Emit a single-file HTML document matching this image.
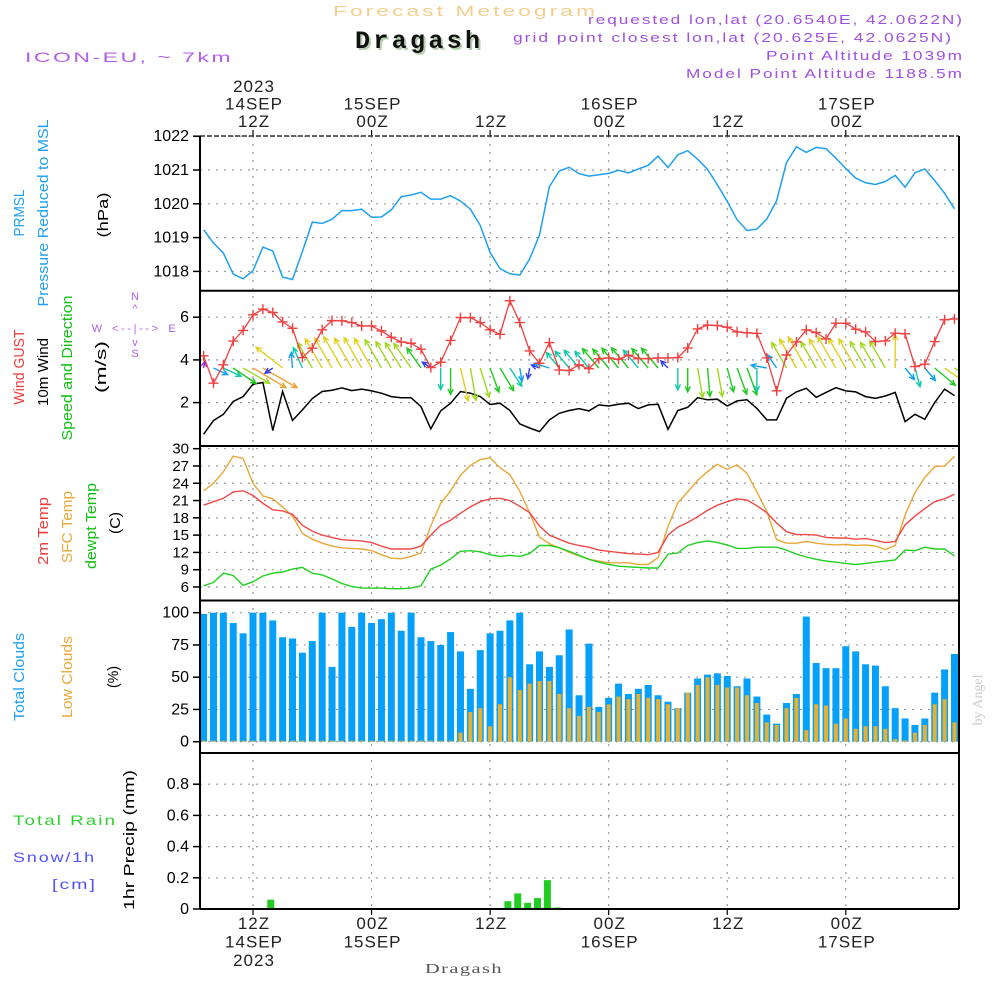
<!DOCTYPE html>
<html><head><meta charset="utf-8"><title>Meteogram Dragash</title>
<style>
html,body{margin:0;padding:0;background:#fff;}
svg{display:block;font-family:"Liberation Sans",sans-serif;}
</style></head>
<body>
<svg id="chart" width="1000" height="1000" viewBox="0 0 1000 1000" xmlns="http://www.w3.org/2000/svg">
  <rect x="0" y="0" width="1000" height="1000" fill="#fff"/>
  <!-- header -->
  <text x="333" y="16" font-size="15" letter-spacing="2" fill="#f3cf8e" textLength="265" lengthAdjust="spacingAndGlyphs">Forecast Meteogram</text>
  <text x="357" y="50" font-family="Liberation Mono, monospace" font-weight="bold" font-size="25" fill="#b8ccb0" textLength="125" lengthAdjust="spacing">Dragash</text>
  <text x="355" y="48" font-family="Liberation Mono, monospace" font-weight="bold" font-size="25" fill="#111" textLength="125" lengthAdjust="spacing">Dragash</text>
  <text x="25" y="62" font-size="14" letter-spacing="1.5" fill="#b060e8" textLength="208" lengthAdjust="spacingAndGlyphs">ICON-EU, ~ 7km</text>
  <text x="588" y="24" font-size="13" letter-spacing="1.5" fill="#a050e0" textLength="376" lengthAdjust="spacingAndGlyphs">requested lon,lat (20.6540E, 42.0622N)</text>
  <text x="513" y="42" font-size="13" letter-spacing="1.5" fill="#a050e0" textLength="440" lengthAdjust="spacingAndGlyphs">grid point closest lon,lat (20.625E, 42.0625N)</text>
  <text x="766" y="60" font-size="13" letter-spacing="1.5" fill="#a050e0" textLength="198" lengthAdjust="spacingAndGlyphs">Point Altitude 1039m</text>
  <text x="686" y="78" font-size="13" letter-spacing="1.5" fill="#a050e0" textLength="278" lengthAdjust="spacingAndGlyphs">Model Point Altitude 1188.5m</text>
  <text x="425" y="973" font-family="Liberation Serif, serif" font-size="14" letter-spacing="1" fill="#555" textLength="78" lengthAdjust="spacingAndGlyphs">Dragash</text>

  <!-- left labels -->
  <g font-size="15">
    <text transform="translate(24,213) rotate(-90)" text-anchor="middle" fill="#1ea0f0" textLength="47" lengthAdjust="spacingAndGlyphs">PRMSL</text>
    <text transform="translate(48,213) rotate(-90)" text-anchor="middle" fill="#1ea0f0" textLength="187" lengthAdjust="spacingAndGlyphs">Pressure Reduced to MSL</text>
    <text transform="translate(108,215) rotate(-90)" text-anchor="middle" fill="#000" textLength="45" lengthAdjust="spacingAndGlyphs">(hPa)</text>
    <text transform="translate(24,367) rotate(-90)" text-anchor="middle" fill="#f03c3c" textLength="75" lengthAdjust="spacingAndGlyphs">Wind GUST</text>
    <text transform="translate(48,372) rotate(-90)" text-anchor="middle" fill="#000" textLength="68" lengthAdjust="spacingAndGlyphs">10m Wind</text>
    <text transform="translate(72,368) rotate(-90)" text-anchor="middle" fill="#10c010" textLength="145" lengthAdjust="spacingAndGlyphs">Speed and Direction</text>
    <text transform="translate(106,367) rotate(-90)" text-anchor="middle" fill="#000" textLength="52" lengthAdjust="spacingAndGlyphs">(m/s)</text>
    <text transform="translate(48,531) rotate(-90)" text-anchor="middle" fill="#f03c3c" textLength="68" lengthAdjust="spacingAndGlyphs">2m Temp</text>
    <text transform="translate(72,527) rotate(-90)" text-anchor="middle" fill="#e8a838" textLength="72" lengthAdjust="spacingAndGlyphs">SFC Temp</text>
    <text transform="translate(96,526) rotate(-90)" text-anchor="middle" fill="#10c010" textLength="86" lengthAdjust="spacingAndGlyphs">dewpt Temp</text>
    <text transform="translate(120,523) rotate(-90)" text-anchor="middle" fill="#000" textLength="22" lengthAdjust="spacingAndGlyphs">(C)</text>
    <text transform="translate(24,677) rotate(-90)" text-anchor="middle" fill="#1ea0f0" textLength="88" lengthAdjust="spacingAndGlyphs">Total Clouds</text>
    <text transform="translate(72,677) rotate(-90)" text-anchor="middle" fill="#e8a838" textLength="82" lengthAdjust="spacingAndGlyphs">Low Clouds</text>
    <text transform="translate(118,677) rotate(-90)" text-anchor="middle" fill="#000" textLength="22" lengthAdjust="spacingAndGlyphs">(%)</text>
    <text transform="translate(134,840) rotate(-90)" text-anchor="middle" fill="#000" textLength="140" lengthAdjust="spacingAndGlyphs">1hr Precip (mm)</text>
    <text x="13" y="825" font-size="14" letter-spacing="1.5" fill="#30d030" textLength="104" lengthAdjust="spacingAndGlyphs">Total   Rain</text>
    <text x="13" y="862" font-size="14" letter-spacing="1.5" fill="#5050ff" textLength="83" lengthAdjust="spacingAndGlyphs">Snow/1h</text>
    <text x="52" y="889" font-size="14" letter-spacing="1.5" fill="#5050ff" textLength="45" lengthAdjust="spacingAndGlyphs">[cm]</text>
  </g>
  <!-- compass -->
  <g fill="#b060e8" font-size="11">
    <text x="135" y="300" text-anchor="middle">N</text>
    <text x="135" y="312" text-anchor="middle">^</text>
    <text x="97" y="332" text-anchor="middle">W</text>
    <text x="135" y="332" text-anchor="middle" textLength="46" lengthAdjust="spacing">&lt;--|--&gt;</text>
    <text x="172" y="332" text-anchor="middle">E</text>
    <text x="135" y="346" text-anchor="middle">v</text>
    <text x="135" y="357" text-anchor="middle">S</text>
  </g>
  <text transform="translate(982,700) rotate(-90)" text-anchor="middle" font-family="Liberation Serif, serif" font-size="14" fill="#cccccc">by Angel</text>
  <g id="plot"></g>
</svg>
<script>
// ---- data (hourly, from 14SEP 07Z = hour 7 to 17SEP 11Z = hour 83) ----
const startHour = 7;
const pressure = [1019.23,1018.84,1018.54,1017.92,1017.78,1018.02,1018.72,1018.60,1017.83,1017.76,
1018.59,1019.46,1019.42,1019.54,1019.80,1019.80,1019.84,1019.60,1019.61,1019.82,
1020.21,1020.26,1020.34,1020.14,1020.14,1020.24,1020.08,1019.84,1019.36,1018.56,
1018.08,1017.93,1017.89,1018.36,1019.08,1020.51,1020.97,1021.08,1020.89,1020.82,
1020.86,1020.90,1020.99,1020.91,1021.03,1021.14,1021.41,1021.07,1021.45,1021.57,
1021.32,1021.02,1020.56,1020.07,1019.53,1019.21,1019.25,1019.55,1020.09,1021.22,
1021.69,1021.52,1021.67,1021.63,1021.35,1021.04,1020.76,1020.62,1020.57,1020.66,
1020.84,1020.49,1020.92,1021.03,1020.69,1020.31,1019.85];
const gust = [4.19,2.91,3.77,4.88,5.38,6.11,6.38,6.22,5.78,5.48,
4.11,4.55,5.41,5.84,5.83,5.75,5.59,5.59,5.36,5.06,
4.84,4.78,4.50,3.64,3.89,4.91,5.98,5.98,5.75,5.41,
5.20,6.77,5.75,4.42,3.84,4.81,3.53,3.50,3.77,3.59,
4.05,4.09,4.03,4.22,4.06,4.06,4.09,4.09,4.11,4.56,
5.45,5.63,5.61,5.53,5.31,5.27,5.24,4.09,2.55,4.23,
4.84,5.41,5.28,4.98,5.72,5.72,5.44,5.31,4.86,4.89,
5.25,5.22,3.69,3.80,4.86,5.88,5.92];
const wind10 = [0.52,1.16,1.45,2.05,2.28,2.86,2.94,0.69,2.52,1.16,
1.66,2.19,2.52,2.58,2.69,2.56,2.63,2.55,2.44,2.28,
2.23,2.23,1.81,0.77,1.61,1.97,2.52,2.44,2.28,1.91,
1.97,1.63,1.00,0.81,0.64,1.19,1.50,1.63,1.72,1.61,
1.89,1.84,1.92,1.97,1.72,1.89,1.92,0.75,1.63,1.78,
2.23,2.13,2.16,1.84,2.08,2.13,1.73,1.19,1.19,2.20,
2.50,2.67,2.25,2.48,2.70,2.55,2.50,2.28,2.20,2.31,
2.48,1.11,1.45,1.22,2.00,2.63,2.33];
const windDir = [190,295,295,304,300,301,300,56,128,175,
156,150,150,150,150,150,150,150,150,150,
148,145,145,125,0,0,347,350,343,340,
329,327,350,10,110,107,140,140,140,140,
140,140,140,140,140,140,140,135,0,0,
350,355,350,345,340,340,0,100,145,150,
150,150,150,150,150,150,150,150,150,150,
180,321,345,320,310,305,305];
const temp2m = [20.2,20.8,21.4,22.5,22.7,21.9,20.5,19.4,19.2,18.6,
16.7,15.7,15.0,14.6,14.2,14.1,14.0,13.7,13.1,12.6,
12.6,12.6,13.1,15.0,16.7,17.6,18.8,19.9,20.8,21.3,
21.4,21.0,20.0,18.9,16.6,15.0,14.3,13.6,13.2,12.9,
12.4,12.2,12.0,11.8,11.7,11.6,12.0,15.0,16.4,17.2,
18.2,19.3,20.2,20.8,21.3,21.1,20.1,18.9,17.1,15.6,
15.1,15.1,15.0,14.6,14.5,14.5,14.3,14.4,14.1,13.7,
13.9,16.8,18.3,19.6,20.8,21.3,22.1];
const tempSfc = [22.7,24.0,26.0,28.7,28.3,24.0,21.8,21.3,19.9,18.3,
15.3,14.3,13.6,13.1,12.8,12.7,12.6,12.3,11.6,11.0,
10.9,11.3,11.9,16.6,20.5,22.7,25.4,27.1,28.1,28.4,
26.7,25.5,22.6,18.9,14.7,13.5,12.8,12.0,11.4,10.8,
10.5,10.2,10.2,10.2,9.9,9.9,11.1,16.5,20.6,22.5,
24.5,26.0,27.3,26.4,27.2,25.7,22.5,19.1,14.2,13.6,
13.6,13.9,13.6,13.4,13.3,13.4,13.2,13.3,13.1,12.5,
13.2,18.5,22.4,25.0,26.9,27.0,28.7];
const dewpt = [6.2,6.8,8.4,8.0,6.3,6.9,7.9,8.4,8.6,9.1,
9.4,8.4,8.1,7.4,6.6,6.1,5.8,5.8,5.8,5.7,
5.7,5.8,6.2,9.1,9.8,10.9,12.2,12.3,12.1,11.6,
11.3,11.5,11.3,11.8,13.2,13.2,12.8,12.2,11.5,10.8,
10.3,9.9,9.6,9.5,9.4,9.3,9.3,11.7,11.9,13.2,
13.7,14.0,13.7,13.3,12.7,12.7,12.9,12.9,12.9,12.4,
11.7,11.2,10.8,10.5,10.3,10.1,9.9,10.1,10.3,10.5,
10.7,12.4,12.3,12.9,12.6,12.6,11.4];
const totalClouds = [99,100,100,92,84,100,100,94,81,80,
69,78,100,58,100,89,100,92,95,100,
86,100,81,78,75,85,70,41,71,84,
86,94,100,60,70,58,67,87,36,76,
27,34,45,37,41,44,36,31,26,38,
49,52,53,51,43,49,35,21,14,30,
37,97,61,57,57,74,70,60,59,43,
26,18,13,18,38,56,68];
const lowClouds = [0,0,0,0,0,0,0,0,0,0,
0,0,0,0,0,0,0,0,0,0,
0,0,0,0,0,0,7,23,26,12,
29,50,40,45,47,47,37,26,20,27,
23,29,35,33,37,34,33,29,26,38,
44,50,44,42,42,36,30,15,13,26,
34,9,29,28,14,18,10,12,12,10,
2,1,7,13,29,33,15];
const precipHours = [14,38,39,40,41,42,43];
const precipValues = [0.06,0.05,0.10,0.04,0.07,0.185,0.01];
const pressureTicks = [1018,1019,1020,1021,1022];
const windTicks = [2,4,6];
const tempTicks = [6,9,12,15,18,21,24,27,30];
const cloudTicks = [0,25,50,75,100];
const precipTicks = [0,0.2,0.4,0.6,0.8];
const timeTickHours = [12,24,36,48,60,72];
const topTimeLabels = [["2023","14SEP","12Z"],["15SEP","00Z"],["12Z"],["16SEP","00Z"],["12Z"],["17SEP","00Z"]];
const bottomTimeLabels = [["12Z","14SEP","2023"],["00Z","15SEP"],["12Z"],["00Z","16SEP"],["12Z"],["00Z","17SEP"]];

// ---- axes ----
const X0 = 200, X1 = 959;
const xH = h => 253 + (h - 12) * 9.88;
const yP = p => 136.2 + (1022 - p) * 33.8;
const yW = v => 445.3 - v * 21.35;
const yT = t => 448.7 + (30 - t) * 5.762;
const yC = c => 741.7 - c * 1.29;
const yR = r => 909 - r * 156;
const panels = [[136,290.7],[290.7,446],[446,600.5],[600.5,753],[753,909]];

const NS = "http://www.w3.org/2000/svg";
const plot = document.getElementById('plot');
function mk(tag, attrs, parent) {
  const e = document.createElementNS(NS, tag);
  for (const k in attrs) e.setAttribute(k, attrs[k]);
  (parent || plot).appendChild(e);
  return e;
}
const defs = mk('defs', {});
panels.forEach((p, i) => {
  const cp = mk('clipPath', {id: 'clip' + i}, defs);
  mk('rect', {x: X0, y: p[0], width: X1 - X0, height: p[1] - p[0]}, cp);
});

const grid = mk('g', {stroke: '#9a9a9a', 'stroke-width': 1.2, 'stroke-dasharray': '2,6'});


timeTickHours.forEach(h => {
  const l = mk('line', {x1: xH(h), x2: xH(h), y1: 136, y2: 909}, grid);
  
  
});
function hGrid(ticks, fy, fmt, name, fs) {
  const g = mk('g', {});
  
  
  ticks.forEach(t => {
    const y = fy(t);
    const gl = mk('line', {x1: X0, x2: X1, y1: y, y2: y, stroke: '#9a9a9a', 'stroke-width': 1.2, 'stroke-dasharray': '2,6'}, g);
    
    
    const tk = mk('line', {x1: 193, x2: X0, y1: y, y2: y, stroke: '#000', 'stroke-width': 1.5}, g);
    
    
    const tx = mk('text', {x: 189, y: y + 5, 'text-anchor': 'end', 'font-size': fs, fill: '#000'}, g);
    
    
    tx.textContent = fmt(t);
  });
}
hGrid(pressureTicks, yP, t => String(t), 'pressure', 16);
hGrid(windTicks, yW, t => String(t), 'wind', 16);
hGrid(tempTicks, yT, t => String(t), 'temp', 15);
hGrid(cloudTicks, yC, t => String(t), 'cloud', 16);
hGrid(precipTicks, yR, t => t === 0 ? '0' : t.toFixed(1), 'precip', 16);

timeTickHours.forEach((h, i) => {
  const x = xH(h);
  const t1 = mk('line', {x1: x, x2: x, y1: 130, y2: 136, stroke: '#000', 'stroke-width': 1.2});
  
  
  const t2 = mk('line', {x1: x, x2: x, y1: 909, y2: 915, stroke: '#000', 'stroke-width': 1.2});
  
  
  const top = topTimeLabels[i];
  top.forEach((s, j) => {
    const y = 127 - (top.length - 1 - j) * 17.5;
    const tx = mk('text', {x: x + 1, y: y, 'text-anchor': 'middle', 'font-size': 17, fill: '#222', 'letter-spacing': 1});
    
    
    tx.textContent = s;
  });
  bottomTimeLabels[i].forEach((s, j) => {
    const tx = mk('text', {x: x + 1, y: 929 + j * 18.5, 'text-anchor': 'middle', 'font-size': 17, fill: '#222', 'letter-spacing': 1});
    
    
    tx.textContent = s;
  });
});

function pathOf(arr, fy) {
  return arr.map((v, i) => (i ? 'L' : 'M') + xH(startHour + i).toFixed(1) + ',' + fy(v).toFixed(1)).join(' ');
}

const pg = mk('g', {'clip-path': 'url(#clip0)'});
const pl = mk('path', {d: pathOf(pressure, yP), fill: 'none', stroke: '#1ea0f0', 'stroke-width': 1.5}, pg);



const wg = mk('g', {'clip-path': 'url(#clip1)'});
const w10 = mk('path', {d: pathOf(wind10, yW), fill: 'none', stroke: '#000', 'stroke-width': 1.5}, wg);


function arrowColor(s) {
  if (s < 0.6) return '#9030e0';
  if (s < 0.9) return '#3040f0';
  if (s < 1.3) return '#10a0f0';
  if (s < 1.75) return '#10c8a8';
  if (s < 2.15) return '#20c820';
  if (s < 2.45) return '#a0d820';
  if (s < 2.75) return '#e0d020';
  return '#f0a030';
}
wind10.forEach((s, i) => {
  const to = (windDir[i] + 180) * Math.PI / 180;
  const L = 13.4 * s;
  const x0 = xH(startHour + i), y0 = 368;
  const x1 = x0 + Math.sin(to) * L, y1 = y0 - Math.cos(to) * L;
  const ang = Math.atan2(y1 - y0, x1 - x0);
  const hl = 6, ha = 0.45;
  const c = arrowColor(s);
  const d = `M${x0.toFixed(1)},${y0} L${x1.toFixed(1)},${y1.toFixed(1)} M${(x1 - hl * Math.cos(ang - ha)).toFixed(1)},${(y1 - hl * Math.sin(ang - ha)).toFixed(1)} L${x1.toFixed(1)},${y1.toFixed(1)} L${(x1 - hl * Math.cos(ang + ha)).toFixed(1)},${(y1 - hl * Math.sin(ang + ha)).toFixed(1)}`;
  const a = mk('path', {d: d, fill: 'none', stroke: c, 'stroke-width': 1.4}, wg);
  
  
});
const gl = mk('path', {d: pathOf(gust, yW), fill: 'none', stroke: '#f04040', 'stroke-width': 1.3}, wg);


gust.forEach((v, i) => {
  const x = xH(startHour + i), y = yW(v);
  const m = mk('path', {d: `M${x - 5},${y} L${x + 5},${y} M${x},${y - 5} L${x},${y + 5}`, stroke: '#f04040', 'stroke-width': 1.4}, wg);
  
  
});

const tg = mk('g', {'clip-path': 'url(#clip2)'});
const ts = mk('path', {d: pathOf(tempSfc, yT), fill: 'none', stroke: '#e8a838', 'stroke-width': 1.4}, tg);


const t2m = mk('path', {d: pathOf(temp2m, yT), fill: 'none', stroke: '#f04848', 'stroke-width': 1.4}, tg);


const td = mk('path', {d: pathOf(dewpt, yT), fill: 'none', stroke: '#20d020', 'stroke-width': 1.4}, tg);



const cg = mk('g', {'clip-path': 'url(#clip3)'});
totalClouds.forEach((v, i) => {
  const x = xH(startHour + i);
  const b = mk('rect', {x: x - 3.5, y: yC(v), width: 7, height: yC(0) - yC(v), fill: '#05a0fa'}, cg);
  
  
});
lowClouds.forEach((v, i) => {
  const x = xH(startHour + i);
  const h = Math.max(yC(0) - yC(v), 1);
  const b = mk('rect', {x: x - 2, y: yC(0) - h, width: 4, height: h, fill: '#e8b030'}, cg);
  
  
});

const rg = mk('g', {'clip-path': 'url(#clip4)'});
precipValues.forEach((v, i) => {
  const x = xH(precipHours[i]) - 2;
  const b = mk('rect', {x: x - 3.5, y: yR(v), width: 7, height: yR(0) - yR(v), fill: '#22cc22'}, rg);
  
  
});

const fr = mk('g', {stroke: '#000', 'stroke-width': 2, fill: 'none'});


mk('line', {x1: X0, x2: X1, y1: 136, y2: 136, stroke: '#333', 'stroke-width': 1.6, 'stroke-dasharray': '5,2'}, fr);
mk('line', {x1: X0, x2: X0, y1: 136, y2: 909}, fr);
mk('line', {x1: X1, x2: X1, y1: 136, y2: 909}, fr);
panels.forEach(p => { mk('line', {x1: X0, x2: X1, y1: p[1], y2: p[1]}, fr); });
</script>
</body></html>
